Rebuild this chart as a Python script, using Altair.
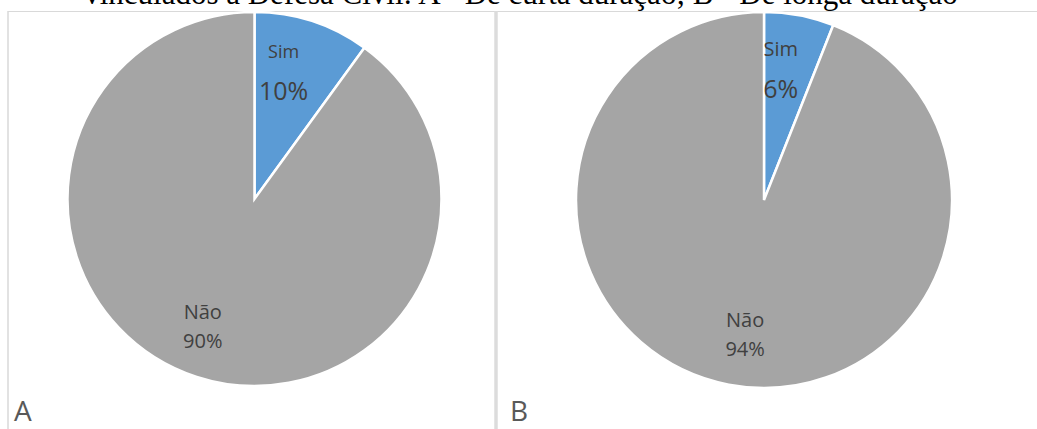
import altair as alt
import pandas as pd

categories = ["Sim", "Não"]
pct_a = [10, 90]
pct_b = [6, 94]
labels_a = ["10%", "90%"]
labels_b = ["6%", "94%"]
colors = ["#5B9BD5", "#A5A5A5"]
title_text = "vinculados à Defesa Civil: A - De curta duração; B - De longa duração"
panel_letters = ["A", "B"]

FONT = "Open Sans"
TXT = "#404040"
BORDER = "#D9D9D9"


def make_df(vals, labels):
    return pd.DataFrame({"cat": categories, "value": vals, "label": labels, "order": [0, 1]})


theta_scale = alt.Scale(domain=[0, 100])
color = alt.Color("cat:N", scale=alt.Scale(domain=categories, range=colors), legend=None)


def pie(df, cx, cy, r, label_specs):
    base = (
        alt.Chart(df)
        .transform_stack(stack="value", as_=["v0", "v1"], groupby=[], sort=[alt.SortField("order")])
        .transform_calculate(mid="(datum.v0 + datum.v1) / 2")
    )
    arc = base.mark_arc(radius=r, stroke="white", strokeWidth=2.5).encode(
        theta=alt.Theta("v0:Q", scale=theta_scale),
        theta2="v1:Q",
        color=color,
        x=alt.value(cx),
        y=alt.value(cy),
    )
    layers = [arc]
    for cat, rad, dx, name_size, pct_size, dy in label_specs:
        sub = base.transform_filter(alt.datum.cat == cat)
        enc = dict(theta=alt.Theta("mid:Q", scale=theta_scale), x=alt.value(cx), y=alt.value(cy))
        layers.append(
            sub.mark_text(radius=rad, dx=dx, dy=-dy, font=FONT, fontSize=name_size, color=TXT,
                          align="center", baseline="middle").encode(text=alt.Text("cat:N"), **enc)
        )
        layers.append(
            sub.mark_text(radius=rad, dx=dx, dy=dy, font=FONT, fontSize=pct_size, color=TXT,
                          align="center", baseline="middle").encode(text=alt.Text("label:N"), **enc)
        )
    return layers


one = pd.DataFrame({"k": [0]})

borders = [
    alt.Chart(one).mark_rule(color=BORDER, strokeWidth=1.5).encode(
        x=alt.value(8), y=alt.value(11), y2=alt.value(429)),
    alt.Chart(one).mark_rule(color=BORDER, strokeWidth=1).encode(
        x=alt.value(8), x2=alt.value(1037), y=alt.value(11.5)),
    alt.Chart(one).mark_rule(color="#DCDCDC", strokeWidth=3.5).encode(
        x=alt.value(496), y=alt.value(11), y2=alt.value(429)),
]

title = alt.Chart(one).mark_text(font="Liberation Serif", fontSize=31, color="#000000",
                                 align="center", baseline="alphabetic").encode(
    x=alt.value(521), y=alt.value(4), text=alt.value(title_text))

letter_a = alt.Chart(one).mark_text(font=FONT, fontSize=28, color="#595959",
                                    align="left", baseline="alphabetic").encode(
    x=alt.value(14), y=alt.value(421), text=alt.value(panel_letters[0]))
letter_b = alt.Chart(one).mark_text(font=FONT, fontSize=28, color="#595959",
                                    align="left", baseline="alphabetic").encode(
    x=alt.value(510), y=alt.value(421), text=alt.value(panel_letters[1]))

pie_a = pie(make_df(pct_a, labels_a), 254.5, 199, 187,
            [("Sim", 133, -12, 18, 25, 19.5), ("Não", 135, -10, 20, 20, 14.5)])
pie_b = pie(make_df(pct_b, labels_b), 764, 200, 188,
            [("Sim", 132, -8, 20, 25, 20), ("Não", 138, 7, 20, 20, 14.5)])

chart = alt.layer(*borders, *pie_a, *pie_b, title, letter_a, letter_b).properties(
    width=1037, height=429, padding=0, autosize=alt.AutoSizeParams(type="none"),
    background="white",
).configure_view(stroke=None)

chart.save("out.html", embed_options={"renderer": "svg", "actions": False})
